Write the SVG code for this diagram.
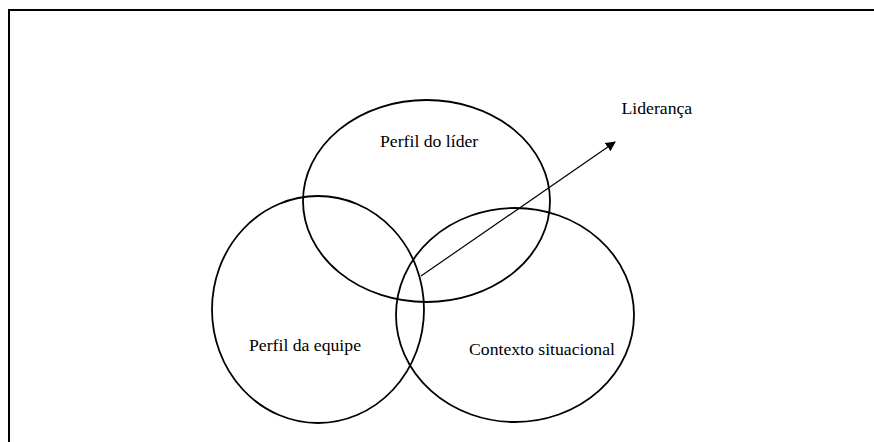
<svg xmlns="http://www.w3.org/2000/svg" width="874" height="442" viewBox="0 0 874 442">
<defs>
<style>
.c{fill:none;stroke:#000;stroke-width:1.8}
.t{font-family:"Liberation Serif","Tinos","Times New Roman","DejaVu Serif",serif;font-size:17.7px;fill:#000}
</style>
<marker id="ah" viewBox="0 0 10 10" refX="9" refY="5" markerWidth="10" markerHeight="10" markerUnits="userSpaceOnUse" orient="auto">
<path d="M0,0 L10,5 L0,10 Z" fill="#000"/>
</marker>
</defs>
<rect width="874" height="442" fill="#fff"/>
<path d="M9,460 V10 H900" fill="none" stroke="#000" stroke-width="2"/>
<g id="lider">
<ellipse class="c" cx="426.5" cy="201" rx="123.5" ry="101"/>
<text class="t" x="380" y="147">Perfil do líder</text>
</g>
<g id="equipe">
<ellipse class="c" cx="318" cy="309.5" rx="106" ry="113.5"/>
<text class="t" x="249" y="351">Perfil da equipe</text>
</g>
<g id="contexto">
<ellipse class="c" cx="515" cy="315" rx="119" ry="107"/>
<text class="t" x="469" y="355">Contexto situacional</text>
</g>
<g id="lideranca">
<text class="t" x="621.5" y="114">Liderança</text>
</g>
<g id="connectors">
<line x1="421" y1="276" x2="615" y2="142" stroke="#000" stroke-width="1.2" marker-end="url(#ah)"/>
</g>
</svg>
